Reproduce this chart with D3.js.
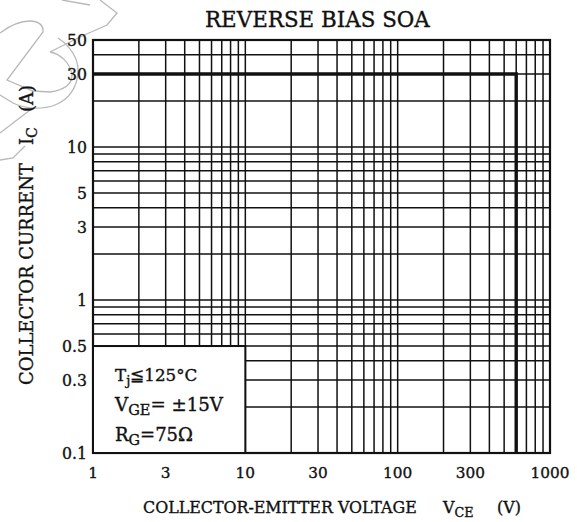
<!DOCTYPE html>
<html>
<head>
<meta charset="utf-8">
<script src="https://cdn.jsdelivr.net/npm/d3@7"></script>
<style>
  body { margin: 0; background: #fff; }
  svg text { font-family: "DejaVu Serif", "Liberation Serif", serif; fill: #111; stroke: #111; stroke-width: 0.35px; }
</style>
</head>
<body>
<div id="chart"></div>
<script>
// axis ranges
let xDomain = [1, 1000];
let yDomain = [0.1, 50];
let xTickValues = [1, 3, 10, 30, 100, 300, 1000];
let yTickValues = [0.1, 0.3, 0.5, 1, 3, 5, 10, 30, 50];
// grid lines (1..9 per decade)
let xGrid = [2, 3, 4, 5, 6, 7, 8, 9, 10, 20, 30, 40, 50, 60, 70, 80, 90, 100, 200, 300, 400, 500, 600, 700, 800, 900];
let yGrid = [0.2, 0.3, 0.4, 0.5, 0.6, 0.7, 0.8, 0.9, 1, 2, 3, 4, 5, 6, 7, 8, 9, 10, 20, 30, 40];
// RBSOA boundary
let soaVce = [1, 600, 600];
let soaIc = [30, 30, 0.1];
let legendLines = [["T", "j", "≦125°C"], ["V", "GE", "= ±15V"], ["R", "G", "=75Ω"]];

let margin = {top: 40, right: 27, bottom: 69, left: 93};
let W = 577, H = 522;
let width = W - margin.left - margin.right;
let height = H - margin.top - margin.bottom;

let svg = d3.select("#chart").append("svg")
    .attr("width", W).attr("height", H);

// scale a text's font so it spans the wanted width
function fit(sel, target) {
    let w = sel.node().getComputedTextLength();
    let fs = parseFloat(sel.style("font-size"));
    sel.style("font-size", (fs * target / w) + "px");
    return sel;
}

// watermark outline (decorative)
let wm = svg.append("g").attr("fill", "none").attr("stroke", "#b8b8b8").attr("stroke-width", 1.3);
wm.append("path").attr("d", "M58,38 C70,46 78,58 78,70 C78,88 68,100 55,105 C42,110 25,109 13,103 L0,95");
wm.append("path").attr("d", "M50,52 C60,54 70,62 72,75 C72,84 64,90 50,92 L33,91 L7,80 L43,32 C44,25 38,21 30,21 C18,21 8,27 0,33");
wm.append("path").attr("d", "M62,0 L90,5");
wm.append("path").attr("d", "M100,0 L117,13 L107,25 L80,37 L50,52");
wm.append("path").attr("d", "M0,133 L30,110");
wm.append("path").attr("d", "M0,160 L13,158 L25,146");

let g = svg.append("g").attr("transform", `translate(${margin.left},${margin.top})`);

let x = d3.scaleLog().domain(xDomain).range([0, width]);
let y = d3.scaleLog().domain(yDomain).range([height, 0]);

// grid
g.append("g").selectAll("line").data(xGrid).enter().append("line")
    .attr("x1", d => x(d)).attr("x2", d => x(d))
    .attr("y1", 0).attr("y2", height)
    .attr("stroke", "#111").attr("stroke-width", 1.5);
g.append("g").selectAll("line").data(yGrid).enter().append("line")
    .attr("x1", 0).attr("x2", width)
    .attr("y1", d => y(d)).attr("y2", d => y(d))
    .attr("stroke", "#111").attr("stroke-width", 1.5);

// frame
g.append("rect").attr("width", width).attr("height", height)
    .attr("fill", "none").attr("stroke", "#111").attr("stroke-width", 2.2);

// SOA line
let line = d3.line().x(d => x(d[0])).y(d => y(d[1]));
g.append("path")
    .datum(soaVce.map((v, i) => [v, soaIc[i]]))
    .attr("d", line)
    .attr("fill", "none").attr("stroke", "#111").attr("stroke-width", 3.4);

// legend box (covers grid)
g.append("rect")
    .attr("x", x(1)).attr("y", y(0.5))
    .attr("width", x(10) - x(1)).attr("height", y(0.1) - y(0.5))
    .attr("fill", "#fff").attr("stroke", "#111").attr("stroke-width", 2);

let legendW = [82, 108, 78];
legendLines.forEach((l, i) => {
    let t = svg.append("text")
        .attr("x", 115).attr("y", 381 + i * 30)
        .style("font-size", "16px");
    t.append("tspan").text(l[0]);
    t.append("tspan").attr("dy", "0.3em").style("font-size", "0.8em").text(l[1]);
    t.append("tspan").attr("dy", "-0.24em").text(l[2]);
    fit(t, legendW[i]);
});

// tick labels
let xt = g.append("g").selectAll("text").data(xTickValues).enter().append("text")
    .attr("x", d => x(d)).attr("y", height + 25)
    .attr("text-anchor", "middle").style("font-size", "15px")
    .text(d => d);
let scaleX = 39 / xt.filter(d => d === 1000).node().getComputedTextLength();
xt.style("font-size", (15 * scaleX) + "px");

let yt = g.append("g").selectAll("text").data(yTickValues).enter().append("text")
    .attr("x", -6).attr("y", d => y(d)).attr("dy", "0.36em")
    .attr("text-anchor", "end").style("font-size", "15px")
    .text(d => d);
let scaleY = 25 / yt.filter(d => d === 0.5).node().getComputedTextLength();
yt.style("font-size", (15 * scaleY) + "px");

// title
fit(svg.append("text").attr("x", 205).attr("y", 27)
    .style("font-size", "18px")
    .text("REVERSE BIAS SOA"), 225);

// x label
let xl1 = fit(svg.append("text").attr("x", 143).attr("y", 513)
    .style("font-size", "15px").text("COLLECTOR-EMITTER VOLTAGE"), 274);
let xfs = xl1.style("font-size");
let xl2 = svg.append("text").attr("x", 443).attr("y", 513).style("font-size", xfs);
xl2.append("tspan").text("V");
xl2.append("tspan").attr("dy", "0.3em").style("font-size", "0.8em").text("CE");
svg.append("text").attr("x", 497).attr("y", 513).style("font-size", xfs).text("(V)");

// y label
let yl1 = fit(svg.append("text")
    .attr("transform", "translate(33,385) rotate(-90)")
    .style("font-size", "15px").text("COLLECTOR CURRENT"), 222);
let yfs = yl1.style("font-size");
let yl2 = svg.append("text")
    .attr("transform", "translate(33,145) rotate(-90)").style("font-size", yfs);
yl2.append("tspan").text("I");
yl2.append("tspan").attr("dy", "0.3em").style("font-size", "0.8em").text("C");
svg.append("text")
    .attr("transform", "translate(33,112) rotate(-90)").style("font-size", yfs)
    .text("(A)");
</script>
</body>
</html>
